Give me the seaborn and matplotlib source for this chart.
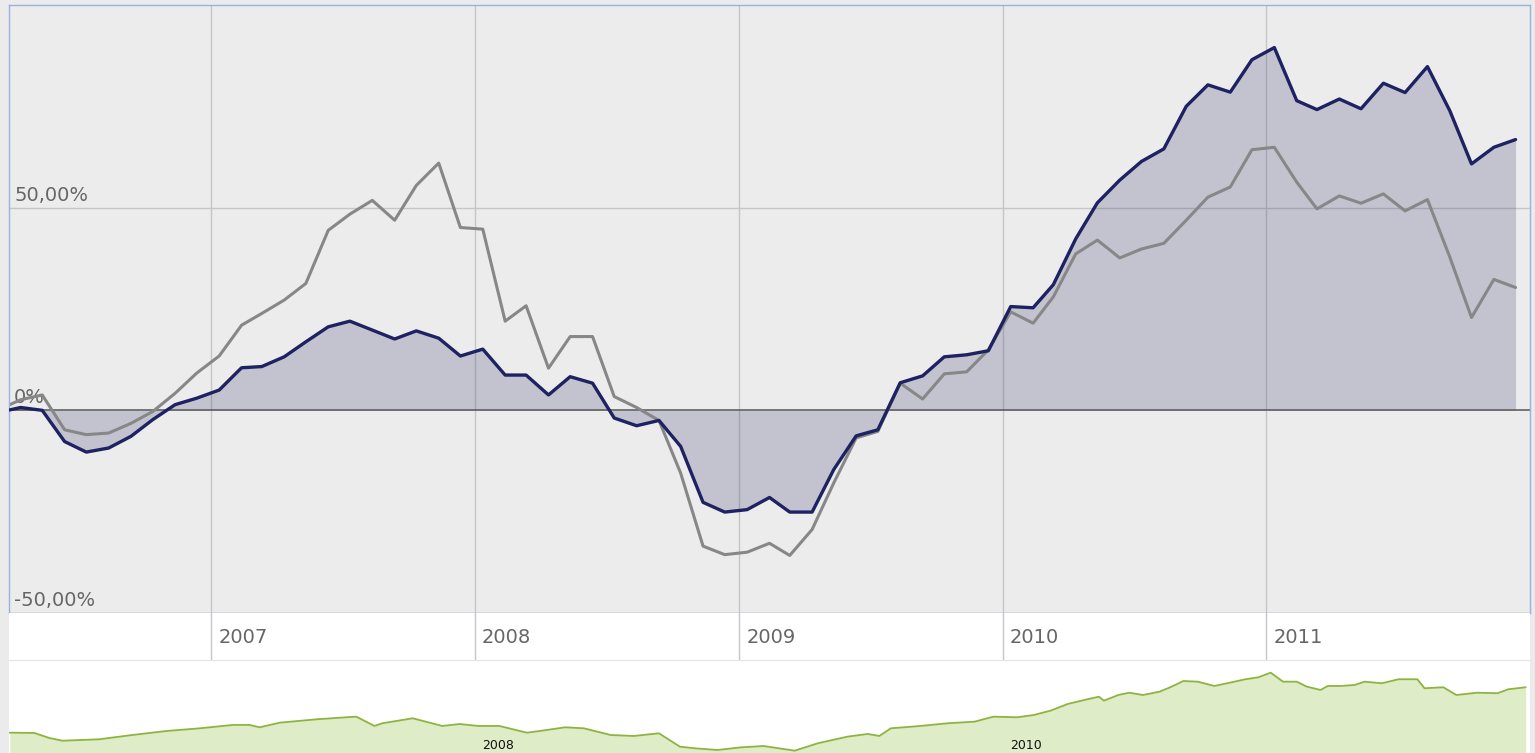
import pandas as pd
import matplotlib
matplotlib.use("Agg")
import matplotlib.pyplot as plt
from matplotlib import transforms
import seaborn as sns

# ---- data -------------------------------------------------------------
first_date = "2006-03-28"
n_months = 69  # April 2006 .. December 2011, one point per month

fund_pct = [0.1,
            0.7, 0.0, -7.7, -10.3, -9.3, -6.4, -2.3, 1.4, 3.0, 5.0,
            10.5, 10.8, 13.2, 16.9, 20.6, 22.0, 19.8, 17.6, 19.6, 17.8,
            13.4, 15.1, 8.7, 8.7, 3.8, 8.3, 6.7, -1.9, -3.8, -2.5,
            -8.9, -22.7, -25.1, -24.5, -21.5, -25.1, -25.1, -14.6, -6.3, -4.8,
            6.8, 8.5, 13.2, 13.7, 14.7, 25.6, 25.3, 31.0, 42.3, 51.2,
            56.8, 61.4, 64.5, 75.0, 80.3, 78.5, 86.5, 89.5, 76.4, 74.2,
            76.8, 74.4, 80.7, 78.4, 84.8, 73.9, 60.8, 64.9, 66.8]

benchmark_pct = [1.4,
                 2.6, 3.8, -4.8, -6.0, -5.6, -3.2, -0.3, 4.2, 9.2, 13.4,
                 21.0, 23.9, 27.2, 31.3, 44.4, 48.4, 51.8, 46.9, 55.5, 61.0,
                 45.1, 44.7, 22.0, 25.8, 10.4, 18.2, 18.2, 3.4, 0.7, -2.5,
                 -15.5, -33.5, -35.6, -35.0, -32.8, -35.8, -29.4, -17.9, -6.8, -5.2,
                 6.7, 2.8, 9.0, 9.5, 14.9, 24.3, 21.5, 28.0, 38.6, 42.0,
                 37.6, 39.8, 41.2, 46.9, 52.6, 55.1, 64.3, 64.9, 56.3, 49.7,
                 52.9, 51.1, 53.4, 49.2, 52.0, 37.8, 22.9, 32.3, 30.3]

# overview (navigator) series: index level, start = 100
nav_dates = ["2006-03-28", "2006-05-01", "2006-05-22", "2006-06-09", "2006-07-30",
             "2006-09-14", "2006-10-31", "2006-12-16", "2007-01-31", "2007-02-23",
             "2007-03-09", "2007-04-06", "2007-05-27", "2007-07-07", "2007-07-21",
             "2007-08-15", "2007-08-26", "2007-10-07", "2007-11-17", "2007-12-11",
             "2008-01-06", "2008-02-04", "2008-03-13", "2008-04-03", "2008-05-05",
             "2008-05-31", "2008-07-07", "2008-08-08", "2008-09-12", "2008-10-11",
             "2008-11-01", "2008-12-02", "2009-01-04", "2009-02-04", "2009-02-25",
             "2009-03-19", "2009-04-20", "2009-05-31", "2009-06-28", "2009-07-14",
             "2009-07-30", "2009-09-09", "2009-10-17", "2009-11-23", "2009-12-19",
             "2010-01-21", "2010-02-13", "2010-03-08", "2010-04-01", "2010-04-24",
             "2010-05-14", "2010-05-21", "2010-06-10", "2010-06-25", "2010-07-14",
             "2010-08-06", "2010-08-21", "2010-09-08", "2010-09-28", "2010-10-21",
             "2010-11-14", "2010-12-03", "2010-12-21", "2011-01-07", "2011-01-24",
             "2011-02-12", "2011-02-26", "2011-03-17", "2011-03-27", "2011-04-14",
             "2011-05-03", "2011-05-17", "2011-06-10", "2011-07-03", "2011-07-29",
             "2011-08-08", "2011-09-03", "2011-09-21", "2011-10-20", "2011-11-17",
             "2011-12-02", "2011-12-26"]
nav_index = [100.0, 99.6, 92.1, 88.1, 90.2, 96.6, 102.5, 106.5, 111.5, 111.5,
             108.0, 114.9, 119.9, 122.9, 123.8, 110.0, 114.0, 121.4, 110.0, 112.9,
             110.0, 110.0, 100.0, 103.0, 108.0, 106.5, 96.6, 95.1, 99.1, 79.2,
             76.8, 74.3, 78.3, 80.2, 76.8, 73.3, 84.3, 94.1, 98.1, 95.1,
             106.5, 110.0, 114.0, 116.4, 123.8, 122.9, 126.3, 132.7, 142.7, 148.6,
             153.5, 147.6, 156.0, 159.4, 156.0, 160.9, 167.5, 176.8, 175.8, 169.4,
             174.9, 179.4, 182.3, 189.2, 175.8, 175.8, 168.4, 163.5, 169.4, 169.4,
             170.9, 175.8, 173.4, 179.4, 179.4, 166.0, 167.5, 156.0, 159.4, 158.6,
             164.5, 167.5]

year_labels = ["2007", "2008", "2009", "2010", "2011"]
nav_year_labels = ["2008", "2010"]
y_ticks = [-50, 0, 50]
y_tick_labels = ["-50,00%", "0%", "50,00%"]

# ---- frames -------------------------------------------------------------
monthly = pd.date_range("2006-04-01", periods=n_months, freq="MS") + pd.Timedelta(days=11)
dates = pd.DatetimeIndex([pd.Timestamp(first_date)]).append(monthly)
perf = pd.DataFrame({"date": dates, "fund": fund_pct, "benchmark": benchmark_pct})
nav = pd.DataFrame({"date": pd.to_datetime(nav_dates), "index": nav_index})
year_dates = [pd.Timestamp(f"{y}-01-01") for y in year_labels]
nav_year_dates = [pd.Timestamp(f"{y}-01-01") for y in nav_year_labels]
x_min, x_max = pd.Timestamp("2006-03-27"), pd.Timestamp("2012-01-01")

# ---- style --------------------------------------------------------------
sns.set_style("white")
plt.rcParams["font.family"] = ["DejaVu Sans"]

W, H = 1535, 753
fig = plt.figure(figsize=(W / 100, H / 100), dpi=100, facecolor="#ebebeb")

left, right = 9, 1530
def frac_box(top_px, bottom_px):
    return [left / W, 1 - bottom_px / H, (right - left) / W, (bottom_px - top_px) / H]

ax = fig.add_axes(frac_box(5, 613))
band = fig.add_axes(frac_box(613, 660), sharex=ax)
ov = fig.add_axes(frac_box(660, 800), sharex=ax)

grid_col = "#c6c6c6"
label_col = "#666666"

# ---- main chart -------------------------------------------------------------
ax.set_facecolor("#ebeceb")
ax.set_xlim(x_min, x_max)
ax.set_ylim(-50, 100)
for d in year_dates:
    ax.axvline(d, color=grid_col, lw=1.0, zorder=0.5)
for v in y_ticks:
    if v != 0:
        ax.axhline(v, color=grid_col, lw=1.0, zorder=0.5)

ax.fill_between(perf["date"], perf["fund"], 0, color="#1e2262", alpha=0.2,
                lw=0, zorder=1)
ax.axhline(0, color="#606060", lw=1.2, zorder=1.5)

sns.lineplot(data=perf, x="date", y="benchmark", ax=ax, color="#878787",
             lw=2.2, zorder=2)
sns.lineplot(data=perf, x="date", y="fund", ax=ax, color="#1e2262",
             lw=2.4, zorder=3)

ax.set_xlabel("")
ax.set_ylabel("")
ax.set_xticks([])
ax.set_yticks([])
for s in ax.spines.values():
    s.set_color("#9db0de")
    s.set_linewidth(1.0)

ylab_tr = transforms.offset_copy(
    transforms.blended_transform_factory(ax.transAxes, ax.transData),
    fig=fig, x=5, y=7, units="dots")
for v, lab in zip(y_ticks, y_tick_labels):
    ax.text(0, v, lab, transform=ylab_tr, ha="left", va="baseline",
            fontsize=14, color=label_col, zorder=1.6)

# ---- year label band ---------------------------------------------------------
band.set_facecolor("white")
band.set_ylim(0, 1)
for d in year_dates:
    band.axvline(d, color=grid_col, lw=1.0)
band.set_xticks([])
band.set_yticks([])
for s in band.spines.values():
    s.set_visible(False)
xlab_tr = transforms.offset_copy(
    transforms.blended_transform_factory(band.transData, band.transAxes),
    fig=fig, x=7, y=0, units="dots")
for d, lab in zip(year_dates, year_labels):
    band.text(d, 0.47, lab, transform=xlab_tr, ha="left", va="center",
              fontsize=14, color=label_col)

# ---- overview strip ----------------------------------------------------------
ov.set_facecolor("white")
ov.set_ylim(0, 208)
ov.fill_between(nav["date"], nav["index"], 0, color="#dfecc8", lw=0)
sns.lineplot(data=nav, x="date", y="index", ax=ov, color="#8db43e", lw=1.3)
ov.set_xlabel("")
ov.set_ylabel("")
ov.set_xticks([])
ov.set_yticks([])
for s in ov.spines.values():
    s.set_visible(False)
ov.spines["top"].set_visible(True)
ov.spines["top"].set_color("#e4e4e4")
nav_tr = transforms.offset_copy(
    transforms.blended_transform_factory(ov.transData, ov.transAxes),
    fig=fig, x=7, y=0, units="dots")
for d, lab in zip(nav_year_dates, nav_year_labels):
    ov.text(d, 0.39, lab, transform=nav_tr, ha="left", va="center",
            fontsize=9, color="#111111")

ax.set_xlim(x_min, x_max)
fig.savefig("out.png", dpi=100, facecolor=fig.get_facecolor())
